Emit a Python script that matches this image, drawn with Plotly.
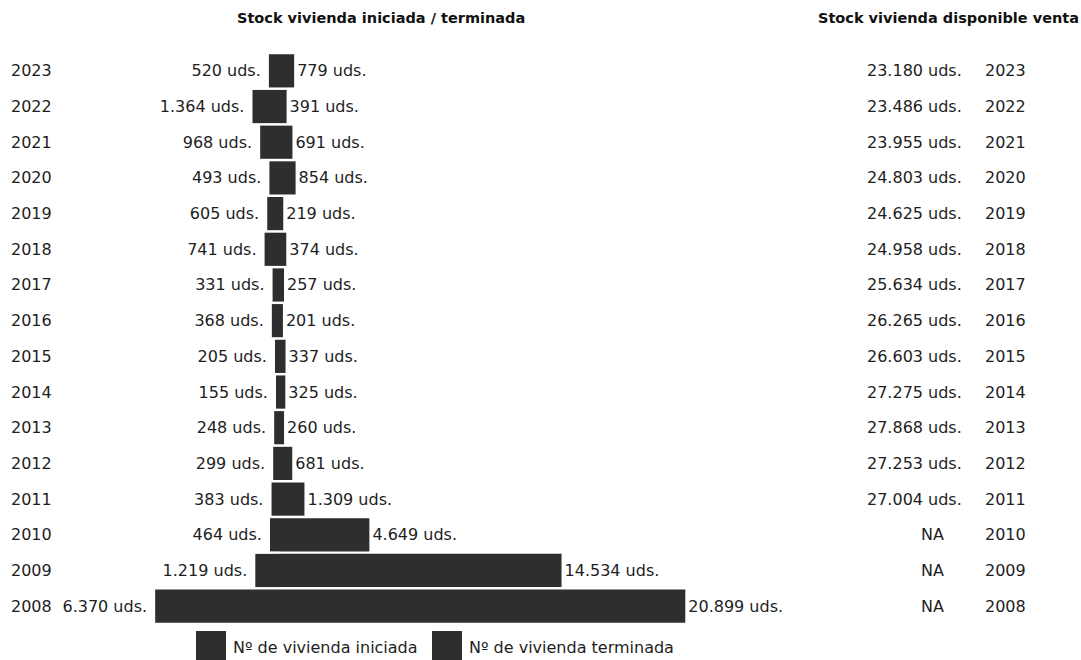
import plotly.graph_objects as go

# Data
years = ["2023", "2022", "2021", "2020", "2019", "2018", "2017", "2016",
         "2015", "2014", "2013", "2012", "2011", "2010", "2009", "2008"]
iniciada = [520, 1364, 968, 493, 605, 741, 331, 368,
            205, 155, 248, 299, 383, 464, 1219, 6370]
terminada = [779, 391, 691, 854, 219, 374, 257, 201,
             337, 325, 260, 681, 1309, 4649, 14534, 20899]
stock_venta = [23180, 23486, 23955, 24803, 24625, 24958, 25634, 26265,
               26603, 27275, 27868, 27253, 27004, None, None, None]

title_left = "Stock vivienda iniciada / terminada"
title_right = "Stock vivienda disponible venta"
legend_names = ["Nº de vivienda iniciada", "Nº de vivienda terminada"]

W, H = 1081, 660
TOP, BOTTOM = 53, 624          # plot area in pixels
BAR_COLOR = "#2e2e2e"
TXT = "#1e1e1e"
FONT = "DejaVu Sans"
FS = 16

rows = list(range(len(years)))  # row index for each year, top to bottom


def fmt(v):
    return f"{v:,}".replace(",", ".") + " uds."


def px_x(x):
    return x / W


def px_y(y):
    return (BOTTOM - y) / (BOTTOM - TOP)


fig = go.Figure()
fig.add_trace(go.Bar(
    y=rows, x=[-v for v in iniciada], orientation="h",
    name=legend_names[0], marker=dict(color=BAR_COLOR, line=dict(width=0)),
    text=[fmt(v) + "\u00a0" for v in iniciada], textposition="outside",
    textfont=dict(family=FONT, size=FS, color=TXT),
    cliponaxis=False, constraintext="none", hoverinfo="skip",
))
fig.add_trace(go.Bar(
    y=rows, x=terminada, orientation="h",
    name=legend_names[1], marker=dict(color=BAR_COLOR, line=dict(width=0)),
    text=[fmt(v) for v in terminada], textposition="outside",
    textfont=dict(family=FONT, size=FS, color=TXT),
    cliponaxis=False, constraintext="none", hoverinfo="skip",
))

ann = []
# year labels on the left
for r, yr in zip(rows, years):
    ann.append(dict(x=px_x(9), y=r, xref="paper", yref="y", text=yr,
                    showarrow=False, xanchor="left", yanchor="middle",
                    font=dict(family=FONT, size=FS, color=TXT)))
# stock column on the right
for r, yr, s in zip(rows, years, stock_venta):
    if s is None:
        ann.append(dict(x=px_x(932), y=r, xref="paper", yref="y", text="NA",
                        showarrow=False, xanchor="center", yanchor="middle",
                        font=dict(family=FONT, size=FS, color=TXT)))
    else:
        ann.append(dict(x=px_x(964), y=r, xref="paper", yref="y", text=fmt(s),
                        showarrow=False, xanchor="right", yanchor="middle",
                        font=dict(family=FONT, size=FS, color=TXT)))
    ann.append(dict(x=px_x(983), y=r, xref="paper", yref="y", text=yr,
                    showarrow=False, xanchor="left", yanchor="middle",
                    font=dict(family=FONT, size=FS, color=TXT)))
# column titles
ann.append(dict(x=px_x(381), y=px_y(18), xref="paper", yref="paper",
                text=f"<b>{title_left}</b>", showarrow=False,
                xanchor="center", yanchor="middle",
                font=dict(family=FONT, size=14.5, color="#111")))
ann.append(dict(x=px_x(948), y=px_y(18), xref="paper", yref="paper",
                text=f"<b>{title_right}</b>", showarrow=False,
                xanchor="center", yanchor="middle",
                font=dict(family=FONT, size=14.5, color="#111")))

# legend drawn as squares with labels
shapes = []
for x0, label in zip([196, 432], legend_names):
    shapes.append(dict(type="rect", xref="paper", yref="paper",
                       x0=px_x(x0), x1=px_x(x0 + 30), y0=px_y(661), y1=px_y(631),
                       fillcolor=BAR_COLOR, line=dict(width=0)))
    ann.append(dict(x=px_x(x0 + 35), y=px_y(647), xref="paper", yref="paper",
                    text=label, showarrow=False, xanchor="left", yanchor="middle",
                    font=dict(family=FONT, size=FS, color=TXT)))

scale = 0.01944  # pixels per unit
center = 279
fig.update_layout(
    width=W, height=H,
    margin=dict(l=0, r=0, t=TOP, b=H - BOTTOM),
    paper_bgcolor="white", plot_bgcolor="white",
    barmode="relative", bargap=0.07,
    showlegend=False,
    xaxis=dict(range=[-center / scale, (W - center) / scale], visible=False,
               fixedrange=True),
    yaxis=dict(range=[len(years) - 0.5, -0.5], visible=False, fixedrange=True),
    annotations=ann, shapes=shapes,
)

fig.write_html("out.html")
